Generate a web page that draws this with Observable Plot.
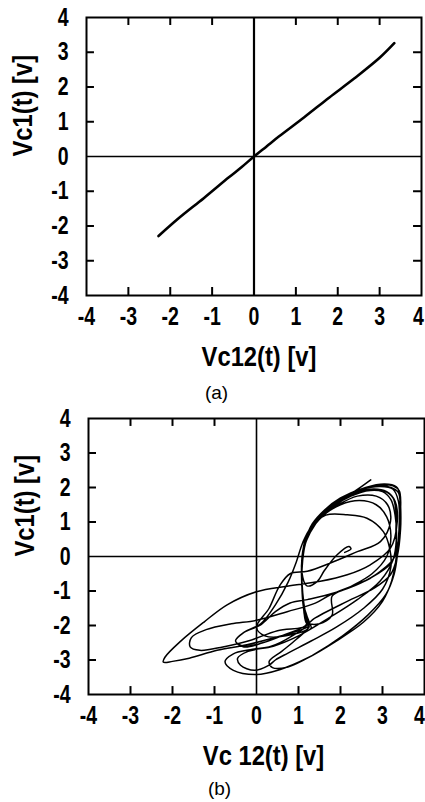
<!DOCTYPE html>
<html>
<head>
<meta charset="utf-8">
<script src="https://cdn.jsdelivr.net/npm/d3@7"></script>
<script src="https://cdn.jsdelivr.net/npm/@observablehq/plot@0.6"></script>
<style>
  html, body { margin: 0; padding: 0; background: #fff; }
  body { width: 425px; height: 802px; overflow: hidden; }
  svg { overflow: visible; display: block; }
  .cap { width: 425px; text-align: center; font-family: "Liberation Sans", Arial, sans-serif; font-size: 19px; color: #000; }
</style>
</head>
<body>
<div id="a"></div>
<div class="cap" style="height:40px;line-height:42px;padding-left:8px;box-sizing:border-box;">(a)</div>
<div id="b"></div>
<div class="cap" style="height:40px;line-height:38px;padding-left:14px;box-sizing:border-box;">(b)</div>
<script>
// ---- data ----
const tickValues = [-4, -3, -2, -1, 0, 1, 2, 3];
const lastTick = [4];
const innerTicks = [-3, -2, -1, 1, 2, 3];
const xLabelA = "Vc12(t) [v]";
const xLabelB = "Vc 12(t) [v]";
const yLabel = "Vc1(t) [v]";

// panel (a): Vc12 vs Vc1, nearly straight line
const vc12A = [-2.28, -1.8, -1.2, -0.6, -0.3, 0.0, 0.3, 0.6, 1.2, 1.8, 2.4, 3.0, 3.35];
const vc1A  = [-2.29, -1.78, -1.2, -0.6, -0.31, 0.0, 0.29, 0.58, 1.13, 1.7, 2.25, 2.84, 3.26];

// panel (b): traced chaotic trajectory, [Vc12, Vc1]
const trajB = [
  // tail down the heavy curve
  [2.72,2.22],[2.35,1.9],[1.95,1.55],[1.6,1.2],[1.35,0.88],[1.18,0.5],[1.1,0.1],[1.08,-0.5],[1.1,-1.1],[1.15,-1.65],[1.25,-2.02],
  // outer right loop
  [0.95,-2.4],[0.6,-2.75],[0.3,-3.05],[0.38,-3.22],[0.75,-3.2],[1.35,-2.85],[2.05,-2.3],[2.65,-1.7],[3.08,-1.1],[3.28,-0.5],[3.36,0.1],[3.4,0.75],[3.43,1.35],[3.42,1.8],[3.33,2.02],[3.05,2.1],[2.6,2.0],[2.1,1.75],[1.7,1.42],[1.4,1.05],[1.2,0.62],[1.1,0.15],[1.07,-0.5],[1.1,-1.15],[1.18,-1.75],[1.3,-2.08],
  // big left wing, back along its upper edge into the right lobe
  [0.6,-2.3],[-0.23,-2.56],[-0.94,-2.72],[-1.6,-2.95],[-2.0,-3.04],[-2.22,-3.06],[-2.18,-2.92],[-1.81,-2.46],[-1.25,-1.9],[-0.7,-1.4],[0.0,-1.02],[0.73,-0.86],[1.52,-0.72],[2.16,-0.53],[2.71,-0.24],[3.19,0.24],[3.35,1.0],[3.3,1.6],[3.1,1.88],[2.7,1.95],[2.2,1.78],[1.75,1.42],[1.4,1.02],[1.18,0.55],[1.1,0.0],[1.08,-0.7],[1.12,-1.4],[1.22,-1.95],
  // bottom arc + right loop
  [0.85,-2.3],[0.35,-2.6],[-0.15,-2.7],[-0.55,-2.82],[-0.75,-3.05],[-0.55,-3.3],[0.0,-3.42],[0.55,-3.28],[1.2,-2.95],[1.9,-2.45],[2.55,-1.9],[3.0,-1.3],[3.22,-0.7],[3.33,0.0],[3.32,0.7],[3.32,1.3],[3.25,1.7],[3.05,1.9],[2.7,1.92],[2.25,1.75],[1.85,1.47],[1.5,1.12],[1.27,0.72],[1.13,0.25],[1.08,-0.35],[1.1,-1.05],[1.16,-1.6],[1.25,-2.0],
  // small bottom-left turn, crossing up into a right loop
  [0.7,-2.25],[0.15,-2.5],[-0.3,-2.62],[-0.5,-2.45],[-0.3,-2.2],[0.1,-1.98],[0.45,-1.6],[0.8,-1.35],[1.21,-1.25],[1.84,-1.06],[2.48,-0.77],[2.95,-0.43],[3.27,-0.05],[3.4,0.7],[3.42,1.4],[3.38,1.85],[3.2,2.0],[2.9,2.05],[2.45,1.92],[2.0,1.65],[1.6,1.3],[1.3,0.88],[1.14,0.4],[1.08,-0.2],[1.09,-0.9],[1.14,-1.5],[1.22,-1.98],
  // inner left wing
  [0.5,-2.15],[-0.2,-2.45],[-0.8,-2.62],[-1.35,-2.72],[-1.58,-2.62],[-1.55,-2.35],[-1.2,-2.12],[-0.6,-1.95],[0.0,-1.85],[0.73,-1.6],[1.4,-1.35],[1.76,-1.11],[2.71,-0.63],[3.2,-0.2],[3.35,0.3],[3.4,1.0],[3.38,1.6],[3.25,1.95],[2.95,2.03],[2.5,1.95],[2.0,1.7],[1.62,1.35],[1.33,0.95],[1.16,0.45],[1.09,-0.1],[1.08,-0.8],[1.12,-1.5],[1.2,-1.95],
  // loop from the cluster
  [1.37,-1.8],[2.16,-1.3],[2.8,-0.92],[3.19,-0.53],[3.35,0.0],[3.43,0.8],[3.43,1.5],[3.4,1.9],[3.25,2.05],[3.0,2.08],[2.55,1.98],[2.1,1.74],[1.7,1.4],[1.4,1.0],[1.2,0.58],[1.1,0.1],[1.08,-0.6],[1.11,-1.3],[1.2,-1.9],
  // box-like excursion
  [1.5,-1.95],[1.8,-1.7],[1.8,-1.15],[2.2,-0.9],[2.75,-0.5],[3.1,0.0],[3.2,0.6],[3.1,1.15],[2.85,1.5],[2.45,1.62],[2.0,1.5],[1.65,1.25],[1.35,0.9],[1.18,0.45],[1.1,-0.1],[1.08,-0.8],[1.12,-1.5],[1.2,-1.95],
  // crossing up the band, right loop down the lower band
  [0.7,-2.25],[0.15,-2.5],[-0.3,-2.6],[-0.5,-2.45],[-0.3,-2.2],[0.1,-1.95],[0.45,-1.4],[0.75,-0.75],[0.95,-0.15],[1.1,0.4],[1.3,0.85],[1.65,1.2],[2.16,1.21],[2.63,1.11],[3.02,0.72],[3.17,0.24],[3.2,-0.3],[3.0,-0.95],[2.55,-1.5],[1.9,-2.05],[1.3,-2.45],[0.75,-2.8],[0.45,-3.0],[0.3,-3.15],
  // inner bottom arc
  [-0.05,-3.3],[-0.38,-3.15],[-0.45,-2.95],[-0.2,-2.75],[0.4,-2.6],[1.0,-2.3],[1.7,-1.8],[2.4,-1.25],[2.95,-0.7],[3.25,-0.1],[3.33,0.5],[3.3,1.2],[3.2,1.65],[3.0,1.88],[2.6,1.9],[2.15,1.72],[1.8,1.45],[1.48,1.08],[1.25,0.65],[1.12,0.15],[1.08,-0.55],[1.1,-1.2],[1.17,-1.8],[1.25,-2.05],
  // last loops ending in the small curl
  [0.7,-2.3],[0.2,-2.3],[0.0,-2.05],[0.3,-1.5],[0.55,-0.85],[0.8,-0.5],[1.21,-0.43],[1.76,-0.19],[2.4,0.14],[2.95,0.43],[3.19,1.01],[3.12,1.5],[2.85,1.75],[2.4,1.75],[1.95,1.5],[1.55,1.15],[1.28,0.7],[1.12,0.2],[1.08,-0.45],[1.2,-0.85],[1.45,-0.72],[1.62,-0.4],[1.92,0.05],[2.2,0.29],[2.25,0.22],[2.1,0.12]
];

// ---- drawing ----
const fontFam = '"Liberation Sans", Arial, sans-serif';
const TICK_FS = 25, LABEL_FS = 27;

function panel(xs, ys, opts) {
  const idx = d3.range(xs.length);
  const tx = 0.19, ty = 0.23; // inner tick length in data units (~8px)
  const svg = Plot.plot({
    width: 425,
    height: opts.height,
    marginTop: opts.mt,
    marginBottom: opts.mb,
    marginLeft: opts.ml,
    marginRight: opts.mr,
    style: { fontFamily: fontFam, fontWeight: "bold", color: "#000", background: "transparent", overflow: "visible" },
    x: { domain: [-4, 4], axis: null },
    y: { domain: [-4, 4], axis: null },
    marks: [
      Plot.ruleX([0], { stroke: "#000", strokeWidth: opts.axW }),
      Plot.ruleY([0], { stroke: "#000", strokeWidth: 1.6 }),
      Plot.ruleX(innerTicks, { x: d => d, y1: -4, y2: -4 + ty, stroke: "#000", strokeWidth: 2 }),
      Plot.ruleX(innerTicks, { x: d => d, y1: 4, y2: 4 - ty, stroke: "#000", strokeWidth: 2 }),
      Plot.ruleY(innerTicks, { y: d => d, x1: -4, x2: -4 + tx, stroke: "#000", strokeWidth: 2 }),
      Plot.ruleY(innerTicks, { y: d => d, x1: 4, x2: 4 - tx, stroke: "#000", strokeWidth: 2 }),
      Plot.line(idx, { x: xs, y: ys, stroke: "#000", strokeWidth: opts.lineW, curve: "catmull-rom", strokeLinejoin: "round" }),
      Plot.frame({ stroke: "#000", strokeWidth: 2 }),
      Plot.text(tickValues, { x: d => d, frameAnchor: "bottom", lineAnchor: "middle", dy: 21, text: d => String(d), fill: "#000", fontSize: TICK_FS, fontWeight: "bold" }),
      Plot.text(lastTick, { x: d => d, frameAnchor: "bottom", lineAnchor: "middle", dy: 21, dx: opts.lastDx, text: d => String(d), fill: "#000", fontSize: TICK_FS, fontWeight: "bold" }),
      Plot.text(tickValues.concat(lastTick), { y: d => d, frameAnchor: "left", dx: -18, textAnchor: "end", lineAnchor: "middle", text: d => String(d), fill: "#000", fontSize: TICK_FS, fontWeight: "bold" }),
      Plot.text([opts.xLabel], { frameAnchor: "bottom", lineAnchor: "middle", dy: 62, dx: opts.xlDx, text: d => d, fill: "#000", fontSize: LABEL_FS, fontWeight: "bold" }),
      Plot.text([yLabel], { frameAnchor: "left", lineAnchor: "middle", dx: -63, rotate: -90, text: d => d, fill: "#000", fontSize: LABEL_FS, fontWeight: "bold" })
    ]
  });
  // condense the bold lettering horizontally, like the original's narrow type
  svg.querySelectorAll("g[font-size] text").forEach(t => {
    const fs = +t.parentNode.getAttribute("font-size");
    const k = fs === TICK_FS ? 0.78 : 0.88;
    const tr = t.getAttribute("transform");
    if (tr) t.setAttribute("transform", tr + ` scale(${k},1)`);
    else {
      const x = +(t.getAttribute("x") || 0), y = +(t.getAttribute("y") || 0);
      t.setAttribute("transform", `translate(${x},${y}) scale(${k},1) translate(${-x},${-y})`);
    }
  });
  return svg;
}

document.getElementById("a").append(panel(vc12A, vc1A, {
  height: 372, mt: 17, mb: 77, ml: 86, mr: 4, lineW: 2.6, axW: 2.2, xLabel: xLabelA, xlDx: 5, lastDx: -3
}));
document.getElementById("b").append(panel(trajB.map(d => d[0]), trajB.map(d => d[1]), {
  height: 358, mt: 6, mb: 76, ml: 88, mr: 1, lineW: 1.5, axW: 1.6, xLabel: xLabelB, xlDx: 7, lastDx: -5
}));
</script>
</body>
</html>
